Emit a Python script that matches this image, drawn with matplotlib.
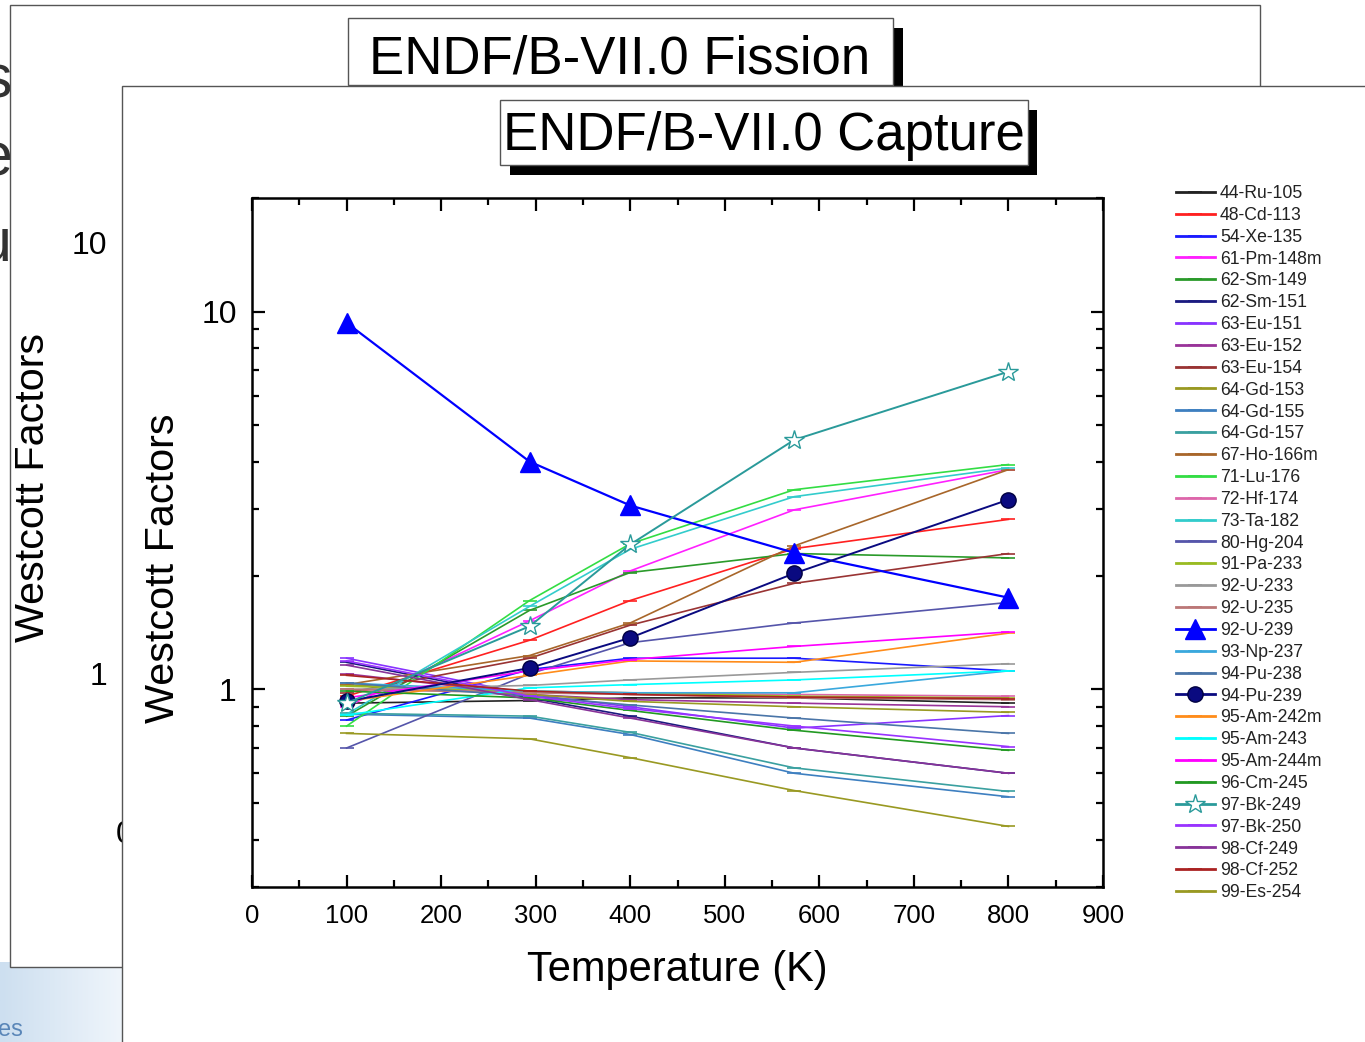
import numpy as np
import matplotlib
matplotlib.use("Agg")
import matplotlib.pyplot as plt
from matplotlib.patches import Rectangle

plt.rcParams['font.family'] = ['Liberation Sans', 'DejaVu Sans']

W, H = 1365, 1042

# ---------------- data ----------------
temperatures = [100, 293.6, 400, 573.6, 800]

isotopes = ["44-Ru-105", "48-Cd-113", "54-Xe-135", "61-Pm-148m", "62-Sm-149",
            "62-Sm-151", "63-Eu-151", "63-Eu-152", "63-Eu-154", "64-Gd-153",
            "64-Gd-155", "64-Gd-157", "67-Ho-166m", "71-Lu-176", "72-Hf-174",
            "73-Ta-182", "80-Hg-204", "91-Pa-233", "92-U-233", "92-U-235",
            "92-U-239", "93-Np-237", "94-Pu-238", "94-Pu-239", "95-Am-242m",
            "95-Am-243", "95-Am-244m", "96-Cm-245", "97-Bk-249", "97-Bk-250",
            "98-Cf-249", "98-Cf-252", "99-Es-254"]

ru105 = [0.92, 0.935, 0.95, 0.95, 0.92]
cd113 = [0.96, 1.35, 1.72, 2.36, 2.82]
xe135 = [0.83, 1.13, 1.21, 1.21, 1.12]
pm148m = [0.90, 1.52, 2.06, 2.99, 3.82]
sm149 = [0.85, 1.62, 2.04, 2.29, 2.23]
sm151 = [1.18, 0.95, 0.85, 0.70, 0.60]
eu151 = [1.21, 0.97, 0.90, 0.79, 0.853]
eu152 = [1.10, 0.97, 0.94, 0.92, 0.90]
eu154 = [0.98, 1.21, 1.48, 1.91, 2.29]
gd153 = [1.03, 0.97, 0.93, 0.90, 0.87]
gd155 = [0.86, 0.84, 0.76, 0.60, 0.52]
gd157 = [0.865, 0.85, 0.77, 0.62, 0.537]
ho166m = [1.03, 1.23, 1.50, 2.40, 3.82]
lu176 = [0.80, 1.72, 2.43, 3.38, 3.94]
hf174 = [1.00, 0.99, 0.98, 0.97, 0.96]
ta182 = [0.86, 1.66, 2.35, 3.24, 3.86]
hg204 = [0.70, 1.10, 1.33, 1.50, 1.70]
pa233 = [1.02, 0.99, 0.98, 0.96, 0.95]
u233 = [1.00, 1.025, 1.06, 1.11, 1.17]
u235 = [1.00, 0.98, 0.97, 0.95, 0.94]
u239 = [9.35, 4.01, 3.07, 2.30, 1.75]
np237 = [1.04, 0.99, 0.98, 0.98, 1.12]
pu238 = [1.04, 0.96, 0.91, 0.84, 0.765]
pu239 = [0.93, 1.14, 1.37, 2.03, 3.18]
am242m = [0.93, 1.09, 1.19, 1.18, 1.41]
am243 = [0.855, 1.01, 1.03, 1.06, 1.12]
am244m = [0.95, 1.12, 1.20, 1.30, 1.42]
cm245 = [0.99, 0.95, 0.88, 0.78, 0.69]
bk249 = [0.92, 1.47, 2.42, 4.58, 6.94]
bk250 = [1.19, 0.96, 0.89, 0.80, 0.706]
cf249 = [1.16, 0.94, 0.84, 0.70, 0.60]
cf252 = [1.09, 0.99, 0.97, 0.955, 0.946]
es254 = [0.765, 0.74, 0.66, 0.54, 0.434]

series = [ru105, cd113, xe135, pm148m, sm149, sm151, eu151, eu152, eu154, gd153,
          gd155, gd157, ho166m, lu176, hf174, ta182, hg204, pa233, u233, u235,
          u239, np237, pu238, pu239, am242m, am243, am244m, cm245, bk249, bk250,
          cf249, cf252, es254]

colors = ['#222222', '#ff2020', '#1a1aff', '#ff20ff', '#2a9a2a',
          '#1a1a80', '#8833ff', '#993399', '#993333', '#999922',
          '#3d7fc0', '#3aa0a0', '#a8662a', '#33dd44', '#dd66aa',
          '#33cccc', '#5555aa', '#99bb22', '#999999', '#bb7777',
          '#0000ff', '#3aa8dd', '#4a75a8', '#0a0a80', '#ff8c1a',
          '#00ffff', '#ff00ff', '#229922', '#2a9a9a', '#9933ff',
          '#883399', '#aa2222', '#999922']

x_ticks = [0, 100, 200, 300, 400, 500, 600, 700, 800, 900]

# ---------------- helpers ----------------
def fx(x):
    return x / W

def fy(y):
    return 1 - y / H

def rect(fig, x0, y0, x1, y1, **kw):
    r = Rectangle((fx(x0), fy(y1)), fx(x1) - fx(x0), fy(y0) - fy(y1),
                  transform=fig.transFigure, **kw)
    fig.patches.append(r)
    return r

fig = plt.figure(figsize=(W / 100, H / 100), dpi=100)
fig.patch.set_facecolor('white')

# background slide gradient bottom-left
gax = fig.add_axes([0, 0, fx(122), fy(962)], zorder=0)
grad = np.linspace(0, 1, 100)[None, :] * np.ones((20, 1))
gax.imshow(grad, cmap=matplotlib.colors.LinearSegmentedColormap.from_list(
    'g', ['#cddff0', '#eff5fb']), aspect='auto', extent=[0, 1, 0, 1])
gax.set_axis_off()
fig.text(fx(-2), fy(1030), "es", fontsize=17, color='#5a86b8', va='center',
         ha='left', zorder=0.5)

# partly hidden letters from the slide behind
for ch, yy in [("s", 82), ("e", 160), ("u", 245)]:
    fig.text(fx(12), fy(yy), ch, fontsize=44, color='#333333', ha='right',
             va='center', zorder=0.6)

# fission frame (behind)
rect(fig, 10, 5, 1260, 967, facecolor='white', edgecolor='#555555', lw=1.0, zorder=1)
rect(fig, 893, 28, 903, 86, facecolor='black', edgecolor='none', zorder=1.1)
rect(fig, 348, 18, 893, 85, facecolor='white', edgecolor='#555555', lw=1.0, zorder=1.2)
fig.text(fx(620), fy(60), "ENDF/B-VII.0 Fission", fontsize=38, ha='center',
         va='center', zorder=1.3)
fig.text(fx(107), fy(246), "10", fontsize=23, ha='right', va='center', zorder=1.3)
fig.text(fx(107), fy(677), "1", fontsize=23, ha='right', va='center', zorder=1.3)
fig.text(fx(116), fy(835), "0", fontsize=23, ha='left', va='center', zorder=1.3)
fig.text(fx(33), fy(488), "Westcott Factors", fontsize=29.7, rotation=90,
         ha='center', va='center', zorder=1.3)

# front (capture) panel
rect(fig, 122, 86, 1380, 1060, facecolor='white', edgecolor='#555555', lw=1.0, zorder=2)
rect(fig, 510, 110, 1037, 175, facecolor='black', edgecolor='none', zorder=2.1)
rect(fig, 500, 100, 1028, 165, facecolor='white', edgecolor='#555555', lw=1.0, zorder=2.2)
fig.text(fx(764), fy(136), "ENDF/B-VII.0 Capture", fontsize=38, ha='center',
         va='center', zorder=2.3)

# ---------------- main axes ----------------
ax = fig.add_axes([fx(252), fy(887), fx(1103) - fx(252), fy(198) - fy(887)], zorder=5)
ax.set_facecolor('none')

for name, vals, c in zip(isotopes, series, colors):
    if name == "92-U-239":
        ax.plot(temperatures, vals, color=c, lw=1.6, marker='^', markersize=14,
                markerfacecolor=c, markeredgecolor=c, label=name, zorder=6)
    elif name == "94-Pu-239":
        ax.plot(temperatures, vals, color=c, lw=1.4, marker='o', markersize=11,
                markerfacecolor=c, markeredgecolor='#000040', label=name, zorder=6)
    elif name == "97-Bk-249":
        ax.plot(temperatures, vals, color=c, lw=1.4, marker='*', markersize=15,
                markerfacecolor='white', markeredgecolor=c, markeredgewidth=1.0,
                label=name, zorder=6)
    else:
        ax.plot(temperatures, vals, color=c, lw=1.2, marker='_', markersize=10,
                markeredgewidth=1.2, label=name, zorder=4)

ax.set_yscale('log')
ax.set_xlim(0, 900)
ax.set_ylim(0.3, 20)
ax.set_xticks(x_ticks)
ax.set_xticks(np.arange(50, 900, 100), minor=True)
ax.set_yticks([1, 10])
ax.set_yticklabels(["1", "10"])
ax.yaxis.set_minor_locator(matplotlib.ticker.LogLocator(base=10, subs=np.arange(2, 10)))
ax.yaxis.set_minor_formatter(matplotlib.ticker.NullFormatter())

for s in ax.spines.values():
    s.set_linewidth(1.8)
ax.tick_params(which='both', direction='in', top=True, right=True, width=1.6)
ax.tick_params(which='major', length=9)
ax.tick_params(which='minor', length=5)
ax.tick_params(axis='x', which='major', labelsize=18.5, pad=12)
ax.tick_params(axis='y', which='major', labelsize=23, pad=11)

ax.set_xlabel("Temperature (K)", fontsize=30, labelpad=16)
ax.set_ylabel("Westcott Factors", fontsize=29.8, labelpad=14)
ax.yaxis.label.set_y(0.463)

leg = ax.legend(loc='upper left', bbox_to_anchor=(fx(1176), fy(185)),
                bbox_transform=fig.transFigure, frameon=False, fontsize=12.7,
                handlelength=2.2, handletextpad=0.3, labelspacing=0.275,
                borderpad=0, borderaxespad=0, markerscale=1.0)
for t in leg.get_texts():
    t.set_color('#222222')
for h in leg.legend_handles:
    h.set_linewidth(2.0)

fig.savefig("out.png", dpi=100)
